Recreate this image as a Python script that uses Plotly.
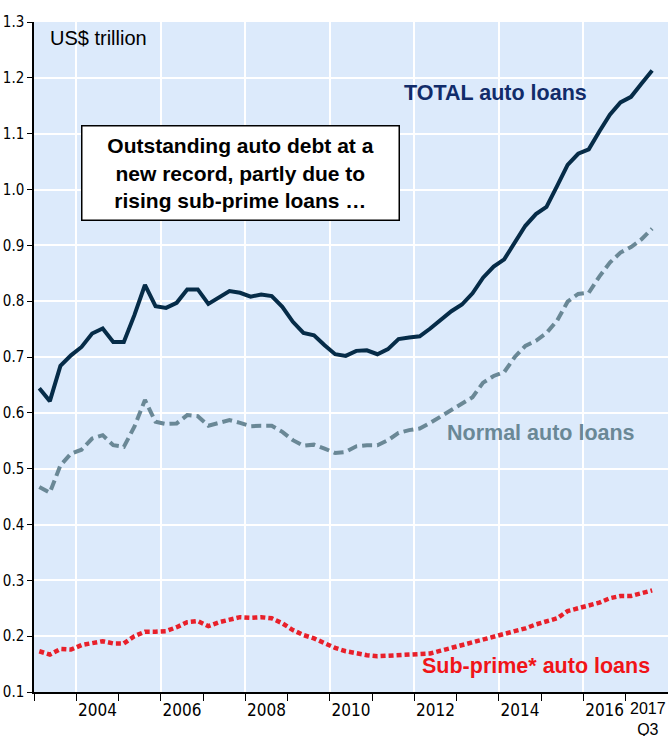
import plotly.graph_objects as go

# ---- data (US$ trillion, quarterly 2003Q1 - 2017Q3) ----
quarters = [f"{y}Q{q}" for y in range(2003, 2018) for q in range(1, 5)][:59]

total_auto = [0.644, 0.621, 0.684, 0.703, 0.718, 0.742, 0.751, 0.727, 0.727, 0.775,
              0.829, 0.791, 0.788, 0.797, 0.821, 0.821, 0.795, 0.807, 0.818, 0.815,
              0.808, 0.812, 0.809, 0.790, 0.763, 0.743, 0.739, 0.721, 0.705, 0.702,
              0.711, 0.712, 0.705, 0.714, 0.732, 0.735, 0.737, 0.751, 0.767, 0.782,
              0.794, 0.814, 0.842, 0.862, 0.875, 0.905, 0.935, 0.956, 0.969, 1.006,
              1.044, 1.064, 1.072, 1.104, 1.134, 1.156, 1.166, 1.190, 1.213]

normal_auto = [0.467, 0.457, 0.506, 0.527, 0.534, 0.554, 0.560, 0.542, 0.539, 0.575,
               0.623, 0.584, 0.580, 0.581, 0.596, 0.594, 0.577, 0.582, 0.587, 0.582,
               0.576, 0.577, 0.577, 0.566, 0.551, 0.541, 0.543, 0.536, 0.528, 0.530,
               0.540, 0.542, 0.542, 0.551, 0.564, 0.569, 0.572, 0.582, 0.593, 0.605,
               0.616, 0.628, 0.654, 0.666, 0.673, 0.700, 0.720, 0.729, 0.743, 0.765,
               0.799, 0.813, 0.815, 0.844, 0.869, 0.887, 0.897, 0.911, 0.930]

subprime_auto = [0.173, 0.167, 0.177, 0.176, 0.184, 0.187, 0.191, 0.187, 0.187, 0.200,
                 0.208, 0.208, 0.209, 0.216, 0.225, 0.227, 0.218, 0.225, 0.230, 0.234,
                 0.233, 0.234, 0.232, 0.223, 0.211, 0.202, 0.196, 0.187, 0.179, 0.173,
                 0.169, 0.166, 0.164, 0.165, 0.166, 0.166, 0.166, 0.169, 0.174, 0.179,
                 0.182, 0.188, 0.193, 0.198, 0.203, 0.207, 0.214, 0.221, 0.226, 0.232,
                 0.245, 0.250, 0.254, 0.260, 0.268, 0.272, 0.272, 0.277, 0.282]

year_ticks = list(range(2003, 2018))
grid_years = [2004, 2006, 2008, 2010, 2012, 2014, 2016]
label_years = [2004, 2006, 2008, 2010, 2012, 2014, 2016]
last_label = "2017<br>Q3"
y_ticks = [0.1, 0.2, 0.3, 0.4, 0.5, 0.6, 0.7, 0.8, 0.9, 1.0, 1.1, 1.2, 1.3]

# quarter label -> decimal year (mid-quarter)
x_vals = [int(s[:4]) + (int(s[-1]) - 0.5) / 4 for s in quarters]

NARROW = "Liberation Sans Narrow, DejaVu Sans Condensed, sans-serif"
ARIAL = "Liberation Sans, Arial, sans-serif"

fig = go.Figure()
fig.add_trace(go.Scatter(x=x_vals, y=total_auto, mode="lines", name="TOTAL auto loans",
                         line=dict(color="#062c48", width=4)))
fig.add_trace(go.Scatter(x=x_vals, y=normal_auto, mode="lines", name="Normal auto loans",
                         line=dict(color="#6a8896", width=4, dash="10px,5px")))
fig.add_trace(go.Scatter(x=x_vals, y=subprime_auto, mode="lines", name="Sub-prime* auto loans",
                         line=dict(color="#e8202a", width=4.5, dash="5px,3px"),
                         xaxis="x2"))

tick2_vals = [y + 0.5 for y in label_years]
tick2_text = [str(y) for y in label_years]

fig.update_layout(
    width=668, height=736,
    margin=dict(l=34, r=0, t=22, b=44, autoexpand=False),
    paper_bgcolor="white", plot_bgcolor="#dceafb",
    showlegend=False,
    xaxis=dict(range=[2003, 2018], tickmode="array", tickvals=grid_years,
               showticklabels=False, ticks="outside", ticklen=7, tickwidth=1.2,
               tickcolor="black", showgrid=True, gridcolor="white", gridwidth=1.5,
               showline=True, linecolor="black", linewidth=1.5, zeroline=False,
               automargin=False,
               minor=dict(tickmode="array", tickvals=year_ticks, ticks="outside",
                          ticklen=7, tickwidth=1.2, tickcolor="black", showgrid=False)),
    xaxis2=dict(range=[2003, 2018], overlaying="x", anchor="y", side="bottom",
                tickmode="array", tickvals=tick2_vals, ticktext=tick2_text,
                ticks="", showgrid=False, showline=False, zeroline=False,
                automargin=False,
                ticklabelstandoff=6, ticklabeloverflow="allow",
                tickfont=dict(family=NARROW, size=17, color="black")),
    yaxis=dict(range=[0.1, 1.3], tickmode="array", tickvals=y_ticks, tickformat=".1f",
               ticks="outside", ticklen=5, tickwidth=1.2, tickcolor="black",
               showgrid=True, gridcolor="white", gridwidth=1.5,
               showline=True, linecolor="black", linewidth=1.5, zeroline=False,
               automargin=False,
               tickfont=dict(family=NARROW, size=15, color="black")),
)

# last-quarter label under the final data point, kept just inside the right edge
fig.add_annotation(text=last_label, xref="paper", yref="paper", x=1.0, y=-0.011,
                   xanchor="right", yanchor="top", showarrow=False, borderpad=0,
                   xshift=-1, font=dict(family=ARIAL, size=16, color="black"))

fig.add_annotation(text="US$ trillion", xref="paper", yref="paper", x=0.022, y=0.976,
                   xanchor="left", yanchor="middle", showarrow=False,
                   font=dict(family=ARIAL, size=20, color="black"))
fig.add_annotation(text="<b>Outstanding auto debt at a<br>new record, partly due to<br>rising sub-prime loans …</b>",
                   xref="paper", yref="paper", x=0.3257, y=0.7748,
                   xanchor="center", yanchor="middle", showarrow=False,
                   bgcolor="white", bordercolor="black", borderwidth=1.5, borderpad=1,
                   width=314, height=91,
                   font=dict(family=ARIAL, size=21, color="black"))
fig.add_annotation(text="<b>TOTAL auto loans</b>", xref="paper", yref="paper",
                   x=0.7287, y=0.894, xanchor="center", yanchor="middle", showarrow=False,
                   font=dict(family=ARIAL, size=21.5, color="#112c6a"))
fig.add_annotation(text="<b>Normal auto loans</b>", xref="paper", yref="paper",
                   x=0.7994, y=0.387, xanchor="center", yanchor="middle", showarrow=False,
                   font=dict(family=ARIAL, size=21.5, color="#6a8896"))
fig.add_annotation(text="<b>Sub-prime* auto loans</b>", xref="paper", yref="paper",
                   x=0.7915, y=0.0388, xanchor="center", yanchor="middle", showarrow=False,
                   font=dict(family=ARIAL, size=21.5, color="#f01418"))

fig.write_html("out.html")
